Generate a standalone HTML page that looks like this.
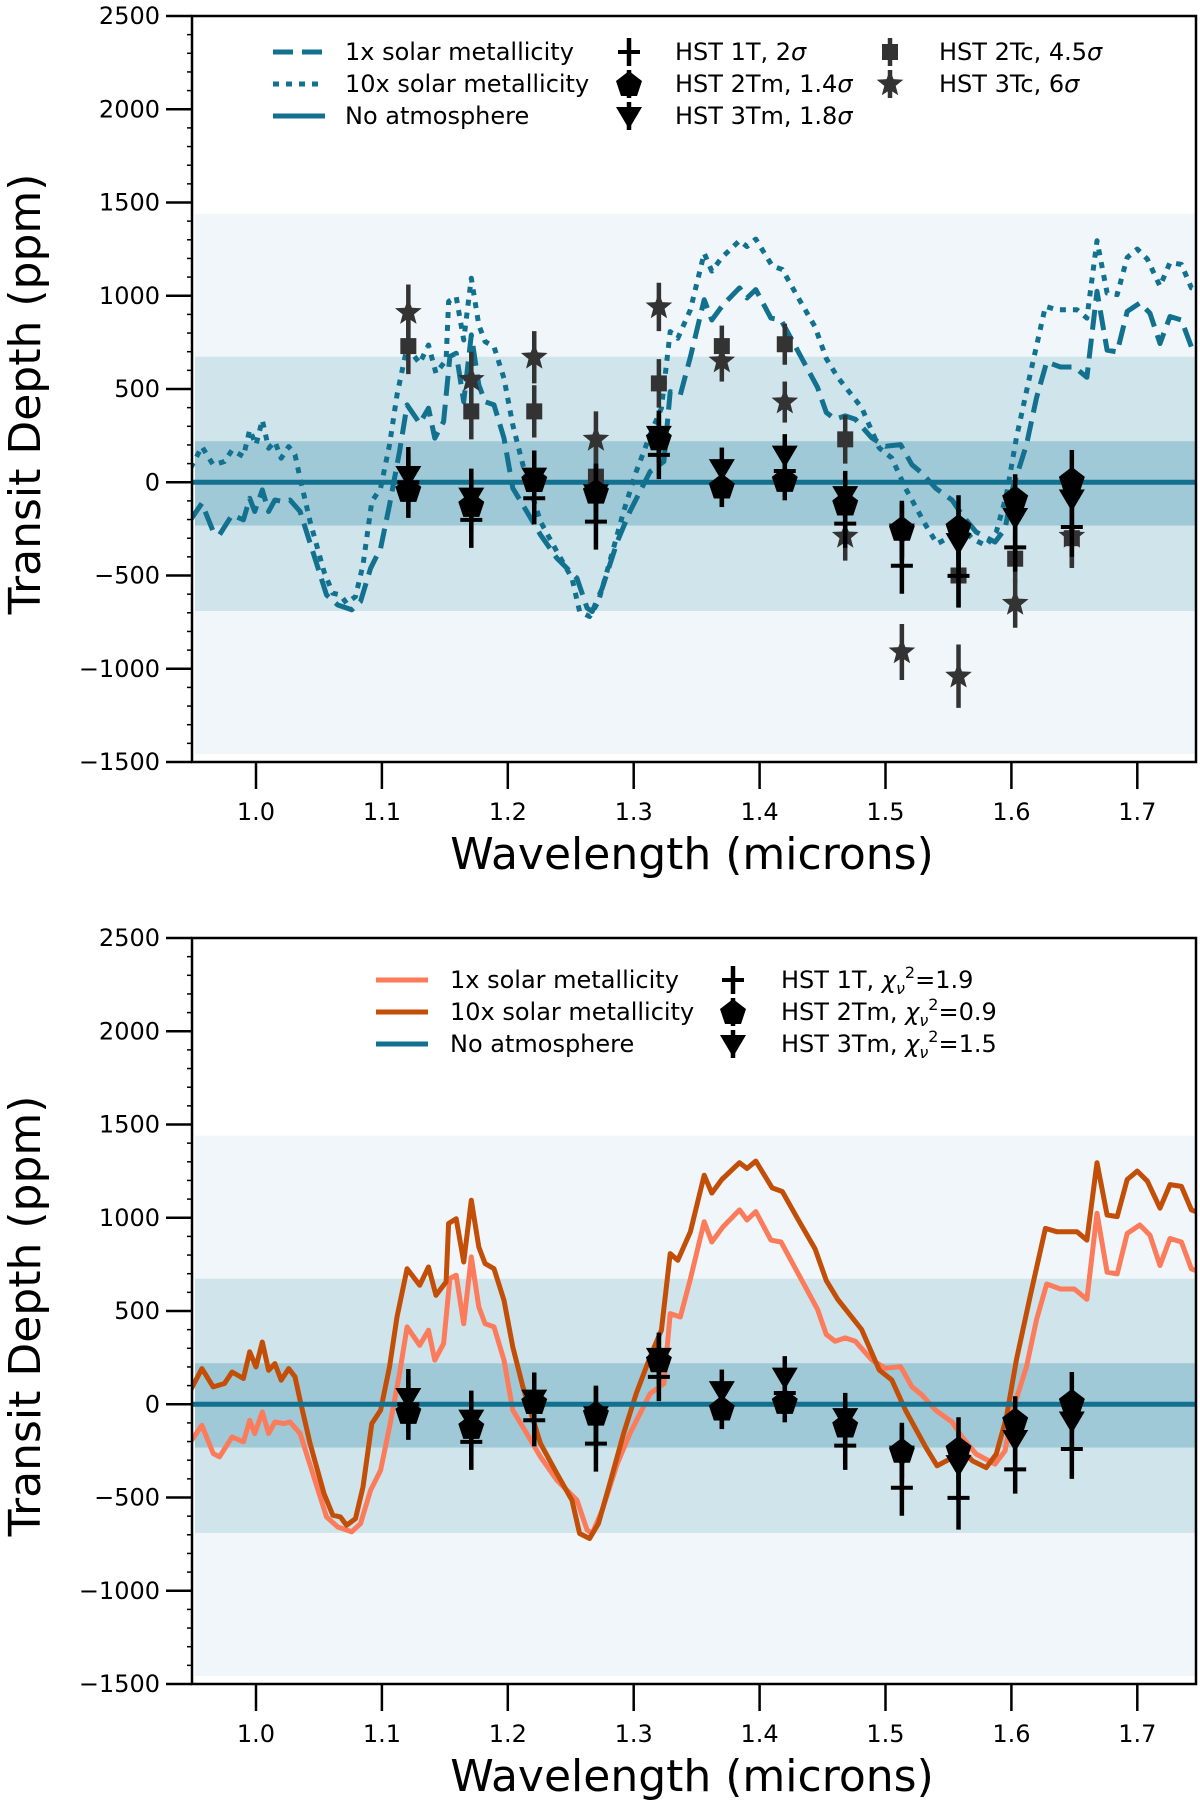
<!DOCTYPE html>
<html><head><meta charset="utf-8"><style>
html,body{margin:0;padding:0;background:#fff;}
svg{display:block;font-family:"DejaVu Sans","Liberation Sans",sans-serif;}
</style></head><body>
<svg id="fig" width="1200" height="1809" viewBox="0 0 1200 1809" xmlns="http://www.w3.org/2000/svg"></svg>
<script>
const wl1x = [0.948,0.957,0.966,0.971,0.981,0.990,0.995,0.999,1.005,1.010,1.015,1.022,1.027,1.035,1.046,1.056,1.065,1.076,1.083,1.091,1.099,1.106,1.114,1.120,1.130,1.137,1.142,1.149,1.154,1.159,1.165,1.171,1.177,1.182,1.189,1.197,1.204,1.212,1.226,1.239,1.255,1.263,1.267,1.275,1.287,1.297,1.313,1.324,1.329,1.337,1.345,1.356,1.362,1.371,1.384,1.390,1.397,1.409,1.417,1.430,1.446,1.453,1.460,1.468,1.476,1.489,1.500,1.512,1.521,1.529,1.540,1.553,1.561,1.572,1.587,1.595,1.601,1.612,1.620,1.628,1.639,1.650,1.660,1.668,1.676,1.684,1.692,1.702,1.710,1.718,1.726,1.735,1.743,1.750];
const depth1x = [-202,-113,-264,-282,-175,-202,-86,-157,-41,-157,-95,-104,-95,-157,-390,-604,-658,-684,-640,-461,-354,-122,164,415,316,397,236,325,674,692,432,790,522,432,415,236,-32,-122,-282,-407,-515,-675,-693,-568,-318,-157,57,111,486,468,672,979,870,952,1042,988,1033,880,870,708,509,374,338,356,338,238,193,202,94,49,-33,-96,-177,-267,-321,-249,-33,202,455,645,618,618,563,1024,708,699,916,961,907,744,889,870,726,708];
const wl10x = [0.948,0.957,0.966,0.975,0.981,0.990,0.995,1.000,1.005,1.010,1.015,1.020,1.026,1.031,1.035,1.043,1.054,1.061,1.067,1.072,1.079,1.085,1.092,1.099,1.106,1.112,1.120,1.130,1.137,1.143,1.151,1.153,1.159,1.165,1.171,1.177,1.182,1.189,1.197,1.204,1.212,1.226,1.239,1.251,1.257,1.265,1.272,1.281,1.292,1.302,1.313,1.322,1.329,1.335,1.345,1.356,1.362,1.370,1.384,1.390,1.397,1.410,1.418,1.430,1.444,1.453,1.462,1.481,1.495,1.505,1.516,1.532,1.541,1.551,1.559,1.569,1.580,1.588,1.596,1.604,1.615,1.627,1.636,1.652,1.660,1.668,1.676,1.684,1.692,1.700,1.708,1.718,1.726,1.735,1.743,1.750];
const depth10x = [75,191,93,111,173,138,281,200,334,182,218,129,191,147,21,-211,-479,-595,-604,-649,-613,-443,-104,-32,200,468,727,638,736,584,656,969,995,763,1094,843,754,727,557,307,93,-211,-372,-515,-693,-720,-640,-425,-157,57,254,397,808,772,925,1228,1132,1205,1295,1264,1304,1160,1141,997,834,663,563,401,184,130,-33,-231,-330,-294,-231,-303,-340,-267,-69,238,582,943,925,925,880,1295,1015,1006,1205,1250,1196,1051,1178,1168,1042,1024];
const obsWl = [1.121,1.171,1.221,1.270,1.320,1.370,1.420,1.468,1.513,1.558,1.603,1.648];
const hst1T = [0,-202,-86,-211,147,-20,60,-222,-448,-502,-349,-240];
const hst2Tm = [-41,-121,12,-50,236,-23,13,-114,-249,-240,-87,13];
const hst3Tm = [39,-77,30,-59,254,76,148,-69,-270,-321,-186,-87];
const hst2Tc = [730,380,380,30,530,730,740,230,-260,-500,-410,-300];
const hst3Tc = [910,550,670,230,940,650,430,-290,-910,-1040,-650,-290];
const errBar = [150,150,140,150,130,110,110,130,150,170,130,160];
const yTicks = [-1500,-1000,-500,0,500,1000,1500,2000,2500];
const xTicks = [1.0,1.1,1.2,1.3,1.4,1.5,1.6,1.7];

const NS='http://www.w3.org/2000/svg';
const svg=document.getElementById('fig');
function mk(tag,attrs,parent){const e=document.createElementNS(NS,tag);for(const k in attrs)e.setAttribute(k,attrs[k]);(parent||svg).appendChild(e);return e;}
const TEAL='#12718f', C1='#fb7b5b', C10='#c24e08';

function panel(top, name, isTop){
  const L=192,R=1196,T=top,B=top+746;
  const g=mk('g',{});
  
  
  const X=w=>256+(w-1.0)*1259;
  const Y=v=>T+(2500-v)*746/4000;
  const b1=mk('rect',{x:L+3,y:Y(1440),width:R-L-3,height:Y(-1457)-Y(1440),fill:'#f0f6f9'},g);
  
  const b2=mk('rect',{x:L+3,y:Y(673),width:R-L-3,height:Y(-690)-Y(673),fill:'#cfe4eb'},g);
  
  const b3=mk('rect',{x:L+3,y:Y(220),width:R-L-3,height:Y(-232)-Y(220),fill:'#a0c9d7'},g);
  
  const clip='clip'+top;
  const cp=mk('clipPath',{id:clip},g);mk('rect',{x:L,y:T,width:R-L,height:B-T},cp);
  const pg=mk('g',{'clip-path':`url(#${clip})`},g);
  function line(wls,vals,attrs,nm){
    const d=wls.map((w,i)=>(i?'L':'M')+X(w).toFixed(1)+','+Y(vals[i]).toFixed(1)).join(' ');
    const p=mk('path',Object.assign({d,fill:'none','stroke-linejoin':'round'},attrs),pg);
    
  }
  if(isTop){
    line(wl1x,depth1x,{stroke:TEAL,'stroke-width':5,'stroke-dasharray':'20,9'},'model-1x-solar');
    line(wl10x,depth10x,{stroke:TEAL,'stroke-width':5,'stroke-dasharray':'6,7'},'model-10x-solar');
  } else {
    line(wl1x,depth1x,{stroke:C1,'stroke-width':5},'model-1x-solar');
    line(wl10x,depth10x,{stroke:C10,'stroke-width':5},'model-10x-solar');
  }
  const na=mk('line',{x1:L,x2:R,y1:Y(0),y2:Y(0),stroke:TEAL,'stroke-width':5},pg);
  
  function marker(kind,cx,cy,col,parent){
    if(kind==='plus'){mk('path',{d:`M${cx-11},${cy}H${cx+11}`,stroke:col,'stroke-width':4},parent);}
    else if(kind==='pent'){mk('path',{d:`M${cx},${cy-13}L${cx+13},${cy-3}L${cx+8},${cy+12}L${cx-8},${cy+12}L${cx-13},${cy-3}Z`,fill:col},parent);}
    else if(kind==='tri'){mk('path',{d:`M${cx-13},${cy-9}H${cx+13}L${cx},${cy+13}Z`,fill:col},parent);}
    else if(kind==='sq'){mk('rect',{x:cx-8,y:cy-8,width:16,height:16,fill:col},parent);}
    else if(kind==='star'){let d='';for(let k=0;k<10;k++){const r=k%2?6:14;const a=-Math.PI/2+k*Math.PI/5;d+=(k?'L':'M')+(cx+r*Math.cos(a)).toFixed(1)+','+(cy+r*Math.sin(a)).toFixed(1);}mk('path',{d:d+'Z',fill:col},parent);}
  }
  function series(vals,kind,col,nm){
    const sg=mk('g',{},g);
    
    vals.forEach((v,i)=>{
      const cx=X(obsWl[i]),cy=Y(v);
      mk('line',{x1:cx,x2:cx,y1:Y(v+errBar[i]),y2:Y(v-errBar[i]),stroke:col,'stroke-width':4.5},sg);
      marker(kind,cx,cy,col,sg);
    });
  }
  if(isTop){
    series(hst2Tc,'sq','#333','hst-2tc-points');
    series(hst3Tc,'star','#333','hst-3tc-points');
  }
  series(hst1T,'plus','#000','hst-1t-points');
  series(hst2Tm,'pent','#000','hst-2tm-points');
  series(hst3Tm,'tri','#000','hst-3tm-points');
  const fr=mk('rect',{x:L,y:T,width:R-L,height:B-T,fill:'none',stroke:'#000','stroke-width':2.5},g);
  
  for(let v=-1500;v<=2500;v+=100){mk('line',{x1:L-5,x2:L,y1:Y(v),y2:Y(v),stroke:'#000','stroke-width':1.5},g);}
  yTicks.forEach(v=>{
    mk('line',{x1:L-26,x2:L,y1:Y(v),y2:Y(v),stroke:'#000','stroke-width':2.5},g);
    const t=mk('text',{x:L-32,y:Y(v)+8,'text-anchor':'end','font-size':24},g);
    t.textContent=(v<0?'\u2212'+(-v):v);
    
  });
  xTicks.forEach(w=>{
    mk('line',{x1:X(w),x2:X(w),y1:B,y2:B+27,stroke:'#000','stroke-width':2.5},g);
    const t=mk('text',{x:X(w),y:B+58,'text-anchor':'middle','font-size':24},g);
    t.textContent=w.toFixed(1);
    
  });
  const xt=mk('text',{x:692,y:B+107,'text-anchor':'middle','font-size':44},g);
  xt.textContent='Wavelength (microns)';
  
  const yt=mk('text',{x:0,y:0,'text-anchor':'middle','font-size':44,transform:`translate(40,${T+378}) rotate(-90)`},g);
  yt.textContent='Transit Depth (ppm)';
  
  return {g,X,Y,marker};
}

function legendLine(g,x,y,attrs,label,tx,nm){
  const lg=mk('g',{},g);
  
  mk('line',Object.assign({x1:x,x2:x+52,y1:y,y2:y},attrs),lg);
  const t=mk('text',{x:tx,y:y+8,'font-size':24},lg);t.textContent=label;
}
function legendMark(p,g,kind,col,x,y,label,tx,nm){
  const lg=mk('g',{},g);
  
  mk('line',{x1:x,x2:x,y1:y-14,y2:y+14,stroke:col,'stroke-width':4.5},lg);
  p.marker(kind,x,y,col,lg);
  const t=mk('text',{x:tx,y:y+8,'font-size':24},lg);t.innerHTML=label;
}

const P1=panel(16,'top-panel',true);
const lg1=mk('g',{});

legendLine(lg1,273,52,{stroke:TEAL,'stroke-width':5,'stroke-dasharray':'20,9'},'1x solar metallicity',345,'legend-1x');
legendLine(lg1,273,84,{stroke:TEAL,'stroke-width':5,'stroke-dasharray':'6,7'},'10x solar metallicity',345,'legend-10x');
legendLine(lg1,273,116,{stroke:TEAL,'stroke-width':5},'No atmosphere',345,'legend-no-atmosphere');
legendMark(P1,lg1,'plus','#000',629,52,'HST 1T, 2<tspan font-style="italic">σ</tspan>',675,'legend-hst-1t');
legendMark(P1,lg1,'pent','#000',629,84,'HST 2Tm, 1.4<tspan font-style="italic">σ</tspan>',675,'legend-hst-2tm');
legendMark(P1,lg1,'tri','#000',629,116,'HST 3Tm, 1.8<tspan font-style="italic">σ</tspan>',675,'legend-hst-3tm');
legendMark(P1,lg1,'sq','#333',890,52,'HST 2Tc, 4.5<tspan font-style="italic">σ</tspan>',939,'legend-hst-2tc');
legendMark(P1,lg1,'star','#333',890,84,'HST 3Tc, 6<tspan font-style="italic">σ</tspan>',939,'legend-hst-3tc');

const P2=panel(938,'bottom-panel',false);
const lg2=mk('g',{});

legendLine(lg2,376,980,{stroke:C1,'stroke-width':5},'1x solar metallicity',450,'legend-1x');
legendLine(lg2,376,1012,{stroke:C10,'stroke-width':5},'10x solar metallicity',450,'legend-10x');
legendLine(lg2,376,1044,{stroke:TEAL,'stroke-width':5},'No atmosphere',450,'legend-no-atmosphere');
legendMark(P2,lg2,'plus','#000',733,980,'HST 1T, <tspan font-style="italic">χ</tspan><tspan font-style="italic" font-size="16" dy="6">ν</tspan><tspan font-size="16" dy="-16">2</tspan><tspan dy="10">=1.9</tspan>',781,'legend-hst-1t');
legendMark(P2,lg2,'pent','#000',733,1012,'HST 2Tm, <tspan font-style="italic">χ</tspan><tspan font-style="italic" font-size="16" dy="6">ν</tspan><tspan font-size="16" dy="-16">2</tspan><tspan dy="10">=0.9</tspan>',781,'legend-hst-2tm');
legendMark(P2,lg2,'tri','#000',733,1044,'HST 3Tm, <tspan font-style="italic">χ</tspan><tspan font-style="italic" font-size="16" dy="6">ν</tspan><tspan font-size="16" dy="-16">2</tspan><tspan dy="10">=1.5</tspan>',781,'legend-hst-3tm');
</script>
</body></html>
